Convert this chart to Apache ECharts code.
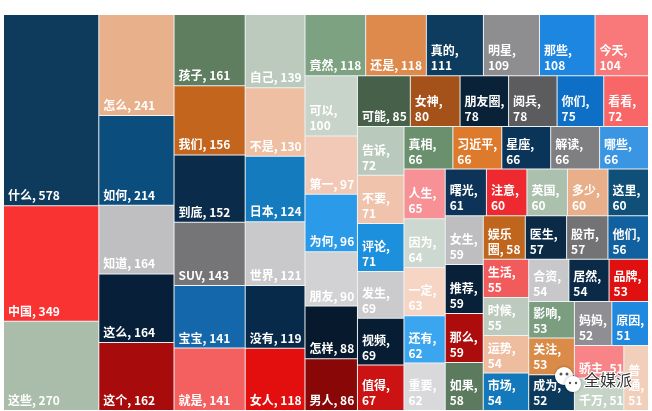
<!DOCTYPE html>
<html><head><meta charset="utf-8">
<style>html,body{margin:0;padding:0;background:#fff}#c{width:652px;height:411px}</style>
<script src="https://cdn.jsdelivr.net/npm/echarts@6/dist/echarts.min.js"></script>
</head><body><div id="c"></div>
<script>
const words = [
 '什么','中国','这些',
 '怎么','如何','知道','这么','这个',
 '孩子','我们','到底','SUV','宝宝','就是',
 '自己','不是','日本','世界','没有','女人',
 '竟然','还是','真的','明星','那些','今天',
 '可以','第一','为何','朋友','怎样','男人',
 '可能','女神','朋友圈','阅兵','你们','看看',
 '告诉','不要','评论','发生','视频','值得',
 '真相','习近平','星座','解读','哪些',
 '人生','因为','一定','还有','重要',
 '曙光','注意','英国','多少','这里',
 '女生','推荐','那么','如果',
 '娱乐圈','医生','股市','他们',
 '生活','时候','运势','市场',
 '合资','居然','品牌',
 '影响','关注','成为',
 '妈妈','原因',
 '骄主','千万','普通'];
const values = [
 578,349,270,
 241,214,164,164,162,
 161,156,152,143,141,141,
 139,130,124,121,119,118,
 118,118,111,109,108,104,
 100,97,96,90,88,86,
 85,80,78,78,75,72,
 72,71,71,69,69,67,
 66,66,66,66,66,
 65,64,63,62,62,
 61,60,60,60,60,
 59,59,59,58,
 58,57,57,56,
 55,55,54,54,
 54,54,53,
 53,53,52,
 52,51,
 51,51,51];
const colors = [
 '#0e3a5c','#f93232','#a9bdaa',
 '#e9b08c','#0b4d7d','#bfbfc1','#071f38','#a80b0b',
 '#5f7e60','#c3651d','#0a2b4a','#757577','#1467ab','#f4605f',
 '#bccabd','#eebfa3','#147bbf','#c9c9cb','#082a4a','#e30f0f',
 '#7da281','#dd8a4c','#0d3c5f','#8e8d90','#1c86e0','#f9787a',
 '#c8d3ca','#f2c9b6','#2b9ae9','#d2d2d4','#06192d','#8a0707',
 '#46604a','#a5511a','#0a2238','#5c5c5e','#0d6fc6','#f86668',
 '#b9cabc','#f0c3ac','#1c8fdd','#cbcbcd','#071d33','#cc1212',
 '#6a906e','#dd7a2c','#0b3558','#7f7f82','#3a95e3',
 '#f79195','#ccd8d0','#f6d5c4','#3ba5ef','#d9d9db',
 '#0d3358','#ee2a30','#acc0ae','#e9af8a','#0f4f78',
 '#bebec0','#082038','#ac0c0c','#5c7a5e',
 '#c0661c','#0a2a45','#737375','#11609f',
 '#f25b5c','#bccbbe','#eebda0','#1379ba',
 '#c8c8ca','#0a2a48','#e01010',
 '#7b9e80','#da8b48','#0b3a5c',
 '#8f8e92','#1f88df',
 '#f98488','#c6d4c8','#f2cfba'];
// Successive strips of the treemap, in reading order
const stripSizes = [3,5,6,6,6,6,6,6,5,5,5,4,4,4,3,3,2];
const lastGroupSize = 2;
// Labels that wrap after the comma in the reference
const wrappedWords = ['真的','明星','那些','今天','可以','女神','朋友圈','阅兵','你们','看看','告诉','不要','评论','发生','视频','值得','真相','习近平','星座','解读','哪些','人生','因为','一定','还有','重要','曙光','注意','英国','多少','这里','女生','推荐','那么','如果','医生','股市','他们','生活','时候','运势','市场','合资','居然','品牌','影响','关注','成为','妈妈','原因'];
const specialLabels = {'娱乐圈':'娱乐\n圈, 58','普通':'普\n通,\n51'};

function leaf(i){
  return {name:words[i],value:values[i],itemStyle:{color:colors[i]}};
}
function range(a,n){const r=[];for(let i=0;i<n;i++)r.push(leaf(a+i));return r;}
function build(){
  let offset=words.length-1-lastGroupSize;
  let rest={name:'r',children:[{name:'g',children:range(offset,lastGroupSize)},leaf(offset+lastGroupSize)]};
  for(let s=stripSizes.length-1;s>=0;s--){
    offset-=stripSizes[s];
    rest={name:'r'+s,children:[{name:'s'+s,children:range(offset,stripSizes[s])},rest]};
  }
  return rest.children;
}
const chart=echarts.init(document.getElementById('c'));
chart.setOption({
  animation:false,
  backgroundColor:'#fff',
  tooltip:{show:false},
  series:[{
    type:'treemap',
    left:4,top:15,width:644,height:395,
    roam:false,nodeClick:false,silent:true,
    breadcrumb:{show:false},
    sort:false,
    squareRatio:1e-9,
    visibleMin:0,
    itemStyle:{gapWidth:1,borderWidth:0,borderColor:'#eef3f5'},
    label:{
      show:true,position:'insideBottomLeft',distance:0,padding:[0,0,2,4],
      color:'#fff',fontFamily:'"Noto Sans CJK SC","Noto Sans",sans-serif',
      fontSize:12,fontWeight:'bold',lineHeight:15,overflow:'none',
      formatter:p=>specialLabels[p.name]||(wrappedWords.includes(p.name)?p.name+',\n'+p.value:p.name+', '+p.value)
    },
    upperLabel:{show:false},
    data:build()
  }],
  graphic:[
    {type:'circle',z:100,shape:{cx:564,cy:376,r:9},style:{fill:'#fff',shadowBlur:3,shadowColor:'rgba(0,0,0,.35)'}},
    {type:'circle',z:100,shape:{cx:573,cy:384,r:8},style:{fill:'#fff',shadowBlur:3,shadowColor:'rgba(0,0,0,.35)'}},
    {type:'circle',z:101,shape:{cx:561,cy:374,r:1.5},style:{fill:'#555'}},
    {type:'circle',z:101,shape:{cx:567,cy:374,r:1.5},style:{fill:'#555'}},
    {type:'circle',z:101,shape:{cx:570,cy:383,r:1.2},style:{fill:'#555'}},
    {type:'circle',z:101,shape:{cx:576,cy:383,r:1.2},style:{fill:'#555'}},
    {type:'text',z:101,x:584,y:372,style:{text:'全媒派',fill:'#333',stroke:'#fff',lineWidth:2,font:'16px "Noto Sans CJK SC"'}}
  ]
});
</script></body></html>
